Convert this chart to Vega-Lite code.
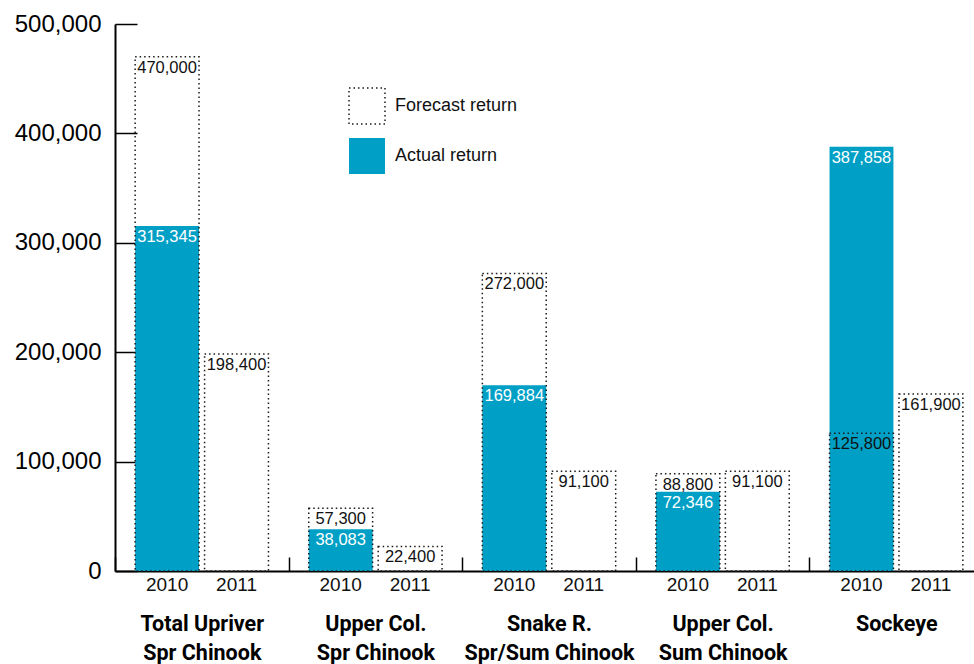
{
  "$schema": "https://vega.github.io/schema/vega-lite/v6.json",
  "autosize": "none",
  "width": 859,
  "height": 547,
  "padding": {"left": 115, "top": 24, "right": 0, "bottom": 93},
  "background": "white",
  "config": {"view": {"stroke": null}, "font": "Liberation Sans"},
  "data": {
    "values": [
      {"group": "Total Upriver\nSpr Chinook", "year": "2010", "forecast": 470000, "actual": 315345},
      {"group": "Total Upriver\nSpr Chinook", "year": "2011", "forecast": 198400, "actual": null},
      {"group": "Upper Col.\nSpr Chinook", "year": "2010", "forecast": 57300, "actual": 38083},
      {"group": "Upper Col.\nSpr Chinook", "year": "2011", "forecast": 22400, "actual": null},
      {"group": "Snake R.\nSpr/Sum Chinook", "year": "2010", "forecast": 272000, "actual": 169884},
      {"group": "Snake R.\nSpr/Sum Chinook", "year": "2011", "forecast": 91100, "actual": null},
      {"group": "Upper Col.\nSum Chinook", "year": "2010", "forecast": 88800, "actual": 72346},
      {"group": "Upper Col.\nSum Chinook", "year": "2011", "forecast": 91100, "actual": null},
      {"group": "Sockeye", "year": "2010", "forecast": 125800, "actual": 387858},
      {"group": "Sockeye", "year": "2011", "forecast": 161900, "actual": null}
    ]
  },
  "encoding": {
    "x": {
      "field": "group", "type": "nominal", "sort": null,
      "scale": {"range": [0, 868], "paddingInner": 0, "paddingOuter": 0},
      "axis": {
        "title": null, "orient": "bottom",
        "domainColor": "#000", "domainWidth": 2,
        "tickBand": "extent", "tickSize": -14, "tickWidth": 1.5, "tickColor": "#000",
        "labelExpr": "split(datum.label, '\\n')",
        "labelFont": "Roboto", "labelFontWeight": "bold", "labelFontSize": 21.5,
        "labelLineHeight": 29, "labelPadding": 56, "labelColor": "#000", "labelAngle": 0,
        "labelOverlap": false, "labelBound": false, "labelFlush": false
      }
    },
    "xOffset": {"field": "year", "type": "nominal", "scale": {"paddingInner": 0.08, "paddingOuter": 0.29}}
  },
  "layer": [
    {
      "transform": [{"filter": "datum.actual != null"}],
      "mark": {"type": "bar", "strokeWidth": 1.5},
      "encoding": {
        "y": {
          "field": "actual", "type": "quantitative", "stack": null,
          "scale": {"domain": [0, 500000], "nice": false},
          "axis": {
            "title": null, "values": [0, 100000, 200000, 300000, 400000, 500000],
            "labelExpr": "format(datum.value, ',')",
            "domainColor": "#000", "domainWidth": 2,
            "tickSize": -22, "tickWidth": 1.5, "tickColor": "#000",
            "labelPadding": 36, "labelFontSize": 24, "labelColor": "#000", "labelFont": "Liberation Sans",
            "labelFlush": false, "grid": false
          }
        },
        "fill": {"datum": "Actual return", "type": "nominal",
          "scale": {"domain": ["Forecast return", "Actual return"], "range": ["transparent", "#00a0c6"]},
          "legend": {"title": null, "orient": "none", "legendX": 233, "legendY": 63, "symbolType": "square", "symbolSize": 1296, "symbolStrokeWidth": 1.5, "labelFontSize": 18, "labelOffset": 9, "rowPadding": 8, "labelColor": "#111", "labelFont": "Liberation Sans", "padding": 0}},
        "stroke": {"datum": "Actual return", "type": "nominal",
          "scale": {"domain": ["Forecast return", "Actual return"], "range": ["#1a1a1a", "transparent"]},
          "legend": {"title": null, "orient": "none", "legendX": 233, "legendY": 63, "symbolType": "square", "symbolSize": 1296, "symbolStrokeWidth": 1.5, "labelFontSize": 18, "labelOffset": 9, "rowPadding": 8, "labelColor": "#111", "labelFont": "Liberation Sans", "padding": 0}},
        "strokeDash": {"datum": "Actual return", "type": "nominal",
          "scale": {"domain": ["Forecast return", "Actual return"], "range": [[1.5, 3], [1, 0]]},
          "legend": {"title": null, "orient": "none", "legendX": 233, "legendY": 63, "symbolType": "square", "symbolSize": 1296, "symbolStrokeWidth": 1.5, "labelFontSize": 18, "labelOffset": 9, "rowPadding": 8, "labelColor": "#111", "labelFont": "Liberation Sans", "padding": 0}}
      }
    },
    {
      "mark": {"type": "bar", "strokeWidth": 1.5},
      "encoding": {
        "y": {"field": "forecast", "type": "quantitative", "stack": null},
        "fill": {"datum": "Forecast return", "type": "nominal"},
        "stroke": {"datum": "Forecast return", "type": "nominal"},
        "strokeDash": {"datum": "Forecast return", "type": "nominal"}
      }
    },
    {
      "mark": {"type": "text", "baseline": "top", "dy": 3, "fontSize": 16.5, "color": "#111", "font": "Liberation Sans"},
      "encoding": {
        "y": {"field": "forecast", "type": "quantitative"},
        "text": {"field": "forecast", "type": "quantitative", "format": ","}
      }
    },
    {
      "transform": [{"filter": "datum.actual != null"}],
      "mark": {"type": "text", "baseline": "top", "dy": 3, "fontSize": 16.5, "color": "white", "font": "Liberation Sans"},
      "encoding": {
        "y": {"field": "actual", "type": "quantitative"},
        "text": {"field": "actual", "type": "quantitative", "format": ","}
      }
    },
    {
      "mark": {"type": "text", "baseline": "top", "dy": 5, "fontSize": 19, "color": "#111", "font": "Liberation Sans"},
      "encoding": {
        "y": {"datum": 0, "type": "quantitative"},
        "text": {"field": "year", "type": "nominal"}
      }
    }
  ]
}
